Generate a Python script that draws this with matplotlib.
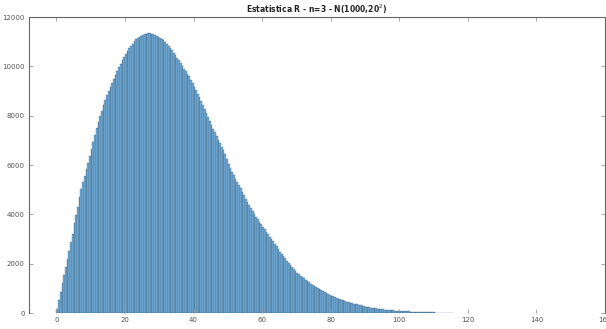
import numpy as np
import matplotlib
matplotlib.use("Agg")
from matplotlib import pyplot as plt

# histogram of the range R (n=3 samples), bins of width 0.5 starting at 0
BIN_START = 0.0
BIN_WIDTH = 0.5
counts = [
    170, 520, 860, 1200, 1540, 1870, 2200, 2530, 2860, 3190,
    3650, 3980, 4300, 4700, 5030, 5300, 5560, 5830, 6100, 6370,
    6660, 6920, 7200, 7480, 7730, 7970, 8200, 8440, 8650, 8820,
    8990, 9160, 9320, 9490, 9650, 9820, 9980, 10110, 10250, 10380,
    10500, 10640, 10750, 10840, 10920, 11010, 11090, 11160, 11200, 11240,
    11280, 11300, 11330, 11340, 11340, 11320, 11300, 11270, 11230, 11190,
    11150, 11110, 11050, 10980, 10910, 10840, 10760, 10660, 10560, 10450,
    10340, 10240, 10130, 10020, 9910, 9800, 9700, 9590, 9460, 9320,
    9180, 9040, 8890, 8740, 8590, 8420, 8260, 8100, 7940, 7790,
    7630, 7470, 7320, 7180, 7030, 6890, 6750, 6610, 6440, 6250,
    6060, 5870, 5730, 5590, 5450, 5320, 5190, 5050, 4910, 4770,
    4640, 4510, 4390, 4270, 4150, 4030, 3910, 3800, 3700, 3590,
    3490, 3390, 3300, 3200, 3100, 3000, 2900, 2800, 2700, 2590,
    2490, 2390, 2300, 2210, 2120, 2030, 1940, 1860, 1790, 1710,
    1640, 1580, 1520, 1460, 1400, 1350, 1300, 1250, 1190, 1140,
    1090, 1040, 1000, 960, 920, 880, 840, 800, 770, 740,
    700, 670, 640, 610, 580, 560, 530, 510, 490, 465,
    445, 420, 400, 380, 365, 345, 330, 310, 295, 275,
    260, 240, 230, 220, 210, 200, 190, 175, 165, 155,
    148, 140, 133, 125, 118, 110, 104, 98, 93, 88,
    83, 78, 74, 70, 66, 62, 58, 54, 50, 46,
    42, 38, 35, 31, 29, 27, 26, 24, 23, 22,
    21, 20, 19, 18, 12, 10, 0, 0, 0, 0,
    0, 10,
]
x_ticks = [0, 20, 40, 60, 80, 100, 120, 140, 160]
y_ticks = [0, 2000, 4000, 6000, 8000, 10000, 12000]
title = "Estatistica R - n=3 - N(1000,20$^2$)"

FACE = "#76b1dc"
AXIS_GRAY = "#666666"

left_edges = BIN_START + BIN_WIDTH * np.arange(len(counts))

fig = plt.figure(figsize=(6.06, 3.29), dpi=100)
ax = fig.add_axes([29 / 606, 1 - 313 / 329, 576 / 606, 296 / 329])

ax.bar(left_edges, counts, width=BIN_WIDTH, align="edge",
       color=FACE, edgecolor="#1b3550", linewidth=0.18)

ax.set_xlim(-8, 160)
ax.set_ylim(0, 12000)
ax.set_xticks(x_ticks)
ax.set_yticks(y_ticks)

for side in ["left", "top", "right"]:
    ax.spines[side].set_color(AXIS_GRAY)
    ax.spines[side].set_linewidth(0.8)
ax.spines["bottom"].set_visible(False)

ax.tick_params(direction="in", length=3, width=0.6, color="#999999",
               labelsize=5, labelcolor="#555555", pad=3,
               top=True, right=True)

ax.set_title(title, fontsize=5.5, fontweight="bold", color="#222222", pad=3)

fig.savefig("out.png", dpi=100)
